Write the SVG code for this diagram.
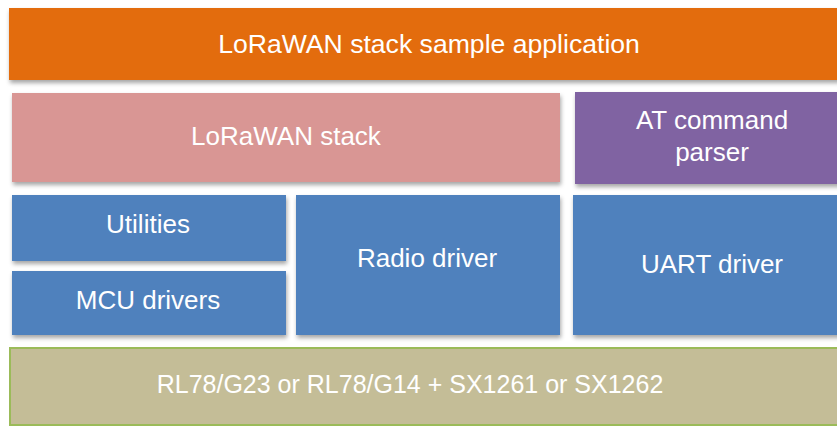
<svg xmlns="http://www.w3.org/2000/svg" width="837" height="426" viewBox="0 0 837 426">
<defs>
<filter id="sh" x="-5%" y="-10%" width="110%" height="130%">
<feDropShadow dx="1" dy="3" stdDeviation="2" flood-color="#000" flood-opacity="0.35"/>
</filter>
</defs>
<style>
text{font-family:"Liberation Sans",Arial,sans-serif;font-size:26px;fill:#fff;text-anchor:middle}
.box{filter:url(#sh)}
</style>
<rect width="837" height="426" fill="#fff"/>
<g id="app"><rect class="box" x="9" y="8" width="840" height="72" fill="#E36C09"/><text x="429" y="53" style="font-size:26.6px">LoRaWAN stack sample application</text></g>
<g id="stack"><rect class="box" x="12" y="93" width="548" height="89" fill="#D99694"/><text x="286" y="145">LoRaWAN stack</text></g>
<g id="at"><rect class="box" x="575" y="92" width="270" height="92" fill="#8064A2"/><text x="712" y="129">AT command</text><text x="712" y="161">parser</text></g>
<g id="util"><rect class="box" x="12" y="195" width="274" height="66" fill="#4F81BD"/><text x="148" y="233">Utilities</text></g>
<g id="mcu"><rect class="box" x="12" y="271" width="274" height="64" fill="#4F81BD"/><text x="148" y="309">MCU drivers</text></g>
<g id="radio"><rect class="box" x="296" y="195" width="264" height="140" fill="#4F81BD"/><text x="427" y="267">Radio driver</text></g>
<g id="uart"><rect class="box" x="573" y="195" width="272" height="140" fill="#4F81BD"/><text x="712" y="273">UART driver</text></g>
<g id="hw"><rect x="10" y="348" width="840" height="77" fill="#C4BD97" stroke="#9BBB59" stroke-width="2"/><text x="410" y="393" style="font-size:25px">RL78/G23 or RL78/G14 + SX1261 or SX1262</text></g>
<g id="connectors"></g>
</svg>
